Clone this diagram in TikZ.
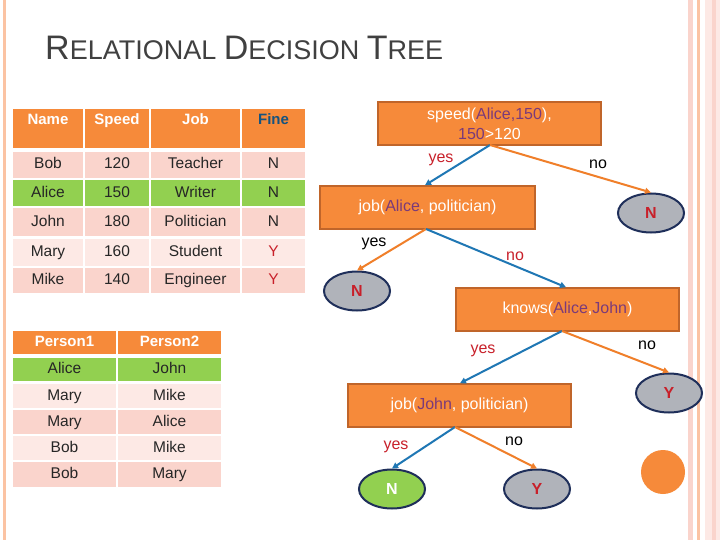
\documentclass[tikz,border=0pt]{standalone}
\usepackage{fontspec}
\setmainfont{Liberation Sans}
\usetikzlibrary{arrows.meta,shapes.geometric}
\definecolor{org}{HTML}{F68A3A}
\definecolor{orgd}{HTML}{C0652A}
\definecolor{pk}{HTML}{FAD4CC}
\definecolor{pkl}{HTML}{FDE9E5}
\definecolor{gr}{HTML}{92D050}
\definecolor{blu}{HTML}{1F77B4}
\definecolor{arr}{HTML}{F07F2A}
\definecolor{navy}{HTML}{1F2F5A}
\definecolor{lgray}{HTML}{B0B3BA}
\definecolor{purp}{HTML}{7A3A7A}
\definecolor{redt}{HTML}{C8202A}
\definecolor{ttl}{HTML}{404040}
\begin{document}
\begin{tikzpicture}[x=1pt,y=-1pt,
  cell/.style={inner sep=0pt,font=\fontsize{15.5}{17}\selectfont,text=black!85,text height=11pt,text depth=3pt},
  hd/.style={cell,fill=org,text=white,font=\fontsize{15}{17}\selectfont\bfseries},
  box/.style={draw=orgd,line width=1.5pt,fill=org,text=white,inner sep=0pt,font=\fontsize{16}{20}\selectfont,align=center},
  leaf/.style={draw=navy,line width=2pt,ellipse,fill=lgray,inner sep=0pt,minimum width=66pt,minimum height=39pt,font=\fontsize{16}{18}\selectfont\bfseries,text=redt},
  ab/.style={line width=2pt,draw=blu,-{Triangle[length=6pt,width=6pt]}},
  ao/.style={line width=2pt,draw=arr,-{Triangle[length=6pt,width=6pt]}},
  lr/.style={font=\fontsize{16}{18}\selectfont,text=redt},
  lk/.style={font=\fontsize{16}{18}\selectfont,text=black}]
\useasboundingbox (0,0) rectangle (720,540);
\fill[white] (0,0) rectangle (720,540);
% side decorations
\fill[pk!80!orange] (3,0) rectangle (6,540);
\fill[pk] (688,0) rectangle (693,540);
\fill[pk!80!orange] (697,0) rectangle (700,540);
\fill[pkl] (705,0) rectangle (720,540);
\fill[pk] (712,0) rectangle (716,540);
% title
\node[anchor=base west,inner sep=0pt,text=ttl] (title) at (45,60) {\fontsize{34}{36}\selectfont R\fontsize{27}{29}\selectfont ELATIONAL \fontsize{34}{36}\selectfont D\fontsize{27}{29}\selectfont ECISION \fontsize{34}{36}\selectfont T\fontsize{27}{29}\selectfont REE};
% table 1
\newcommand\trow[8]{% y1 y2 fill name n1 n2 n3 n4
  \node[cell,fill=#3,minimum width=70pt,minimum height={#2-#1}] (#4a) at (48,{(#1+#2)/2}) {#5};
  \node[cell,fill=#3,minimum width=64pt,minimum height={#2-#1}] (#4b) at (117,{(#1+#2)/2}) {#6};
  \node[cell,fill=#3,minimum width=89pt,minimum height={#2-#1}] (#4c) at (195.5,{(#1+#2)/2}) {#7};
  \node[cell,fill=#3,minimum width=63pt,minimum height={#2-#1}] (#4d) at (273.5,{(#1+#2)/2}) {#8};}
\node[hd,minimum width=70pt,minimum height=39pt] (h1) at (48,128.5) {};
\node[hd,minimum width=64pt,minimum height=39pt] (h2) at (117,128.5) {};
\node[hd,minimum width=89pt,minimum height=39pt] (h3) at (195.5,128.5) {};
\node[hd,minimum width=63pt,minimum height=39pt] (h4) at (273.5,128.5) {};
\node[hd,fill=none] (h1t) at (48,121) {Name};
\node[hd,fill=none] (h2t) at (117,121) {Speed};
\node[hd,fill=none] (h3t) at (195.5,121) {Job};
\node[hd,fill=none,text=blu!70!black] (h4t) at (273.5,121) {Fine};
\trow{152}{178}{pk}{r1}{Bob}{120}{Teacher}{N}
\trow{180}{206}{gr}{r2}{Alice}{150}{Writer}{N}
\trow{208}{236}{pk}{r3}{John}{180}{Politician}{N}
\trow{239}{266}{pkl}{r4}{Mary}{160}{Student}{\textcolor{redt}{Y}}
\trow{268}{293}{pk}{r5}{Mike}{140}{Engineer}{\textcolor{redt}{Y}}
% table 2
\newcommand\srow[5]{%
  \node[cell,fill=#3,minimum width=103pt,minimum height={#2-#1}] (#4a) at (64.5,{(#1+#2)/2}) {#5};}
\newcommand\srowb[5]{%
  \node[cell,fill=#3,minimum width=103pt,minimum height={#2-#1}] (#4b) at (169.5,{(#1+#2)/2}) {#5};}
\node[hd,minimum width=103pt,minimum height=23pt] (p1) at (64.5,342.5) {Person1};
\node[hd,minimum width=103pt,minimum height=23pt] (p2) at (169.5,342.5) {Person2};
\srow{358}{381}{gr}{s1}{Alice}\srowb{358}{381}{gr}{s1}{John}
\srow{384}{408}{pkl}{s2}{Mary}\srowb{384}{408}{pkl}{s2}{Mike}
\srow{410}{434}{pk}{s3}{Mary}\srowb{410}{434}{pk}{s3}{Alice}
\srow{436}{460}{pkl}{s4}{Bob}\srowb{436}{460}{pkl}{s4}{Mike}
\srow{462}{487}{pk}{s5}{Bob}\srowb{462}{487}{pk}{s5}{Mary}
% tree
\node[box,minimum width=223pt,minimum height=43pt] (sp) at (489.5,123.5) {speed(\textcolor{purp}{Alice,150}),\\\textcolor{purp}{150}\textgreater120};
\node[box,minimum width=215pt,minimum height=43pt] (ja) at (427.5,207.5) {job(\textcolor{purp}{Alice}, politician)};
\node[leaf] (n1) at (651,213) {N};
\node[leaf] (n2) at (357,291) {N};
\node[box,minimum width=223pt,minimum height=43pt] (kn) at (567.5,309.5) {knows(\textcolor{purp}{Alice},\textcolor{purp}{John})};
\node[leaf] (y1) at (669,393) {Y};
\node[box,minimum width=223pt,minimum height=43pt] (jj) at (459.5,405.5) {job(\textcolor{purp}{John}, politician)};
\node[leaf,fill=gr,text=white] (n3) at (392,489) {N};
\node[leaf] (y2) at (537,489) {Y};
\node[circle,fill=org,minimum size=44pt,inner sep=0pt] (dot) at (663,472) {};
\coordinate (spb) at (490,145);
\coordinate (jab) at (426,229);
\coordinate (knb) at (562,331);
\coordinate (jjb) at (455,427);
\draw[ab] (spb) -- (ja.north -| 425,0);
\draw[ao] (spb) -- (n1.north);
\draw[ao] (jab) -- (n2.north);
\draw[ab] (jab) -- (kn.north -| 566,0);
\draw[ab] (knb) -- (jj.north -| 460,0);
\draw[ao] (knb) -- (y1.north);
\draw[ab] (jjb) -- (n3.north);
\draw[ao] (jjb) -- (y2.north);
\node[lr] (l1) at (441,160) {yes};
\node[lk] (l2) at (598,164) {no};
\node[lk] (l3) at (374,244) {yes};
\node[lr] (l4) at (515,256) {no};
\node[lr] (l5) at (483,351) {yes};
\node[lk] (l6) at (647,345) {no};
\node[lr] (l7) at (396,447) {yes};
\node[lk] (l8) at (514,441) {no};
\end{tikzpicture}
\end{document}
